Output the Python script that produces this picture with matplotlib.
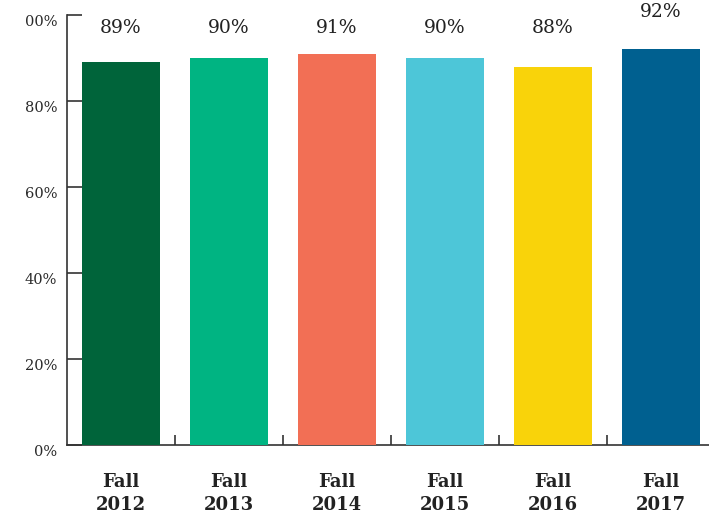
import matplotlib
matplotlib.use("Agg")
import matplotlib.pyplot as plt
import matplotlib.transforms as mtransforms

terms = ["Fall\n2012", "Fall\n2013", "Fall\n2014", "Fall\n2015", "Fall\n2016", "Fall\n2017"]
rates = [89, 90, 91, 90, 88, 92]
colors = ["#00643A", "#00B482", "#F26F55", "#4DC6D8", "#F9D30A", "#006090"]
yticks = [0, 20, 40, 60, 80, 100]
ytick_labels = ["0%", "20%", "40%", "60%", "80%", "00%"]  # top label is cut off in the original

plt.rcParams["font.family"] = ["DejaVu Serif"]
line_color = "#333333"

fig = plt.figure(figsize=(7.09, 5.18), dpi=100)
ax = fig.add_axes([67 / 709, 73 / 518, 648 / 709, 430 / 518])

x = list(range(len(rates)))
ax.bar(x, rates, width=0.72, color=colors, zorder=3)

# value labels sit on one line, the tallest bar gets pushed up above it
for xi, v in zip(x, rates):
    y_lab = v + 8.7 if v == max(rates) else 97
    ax.text(xi, y_lab, f"{v}%", ha="center", va="center",
            fontsize=13.5, color="#222222", clip_on=False)

ax.set_xlim(-0.5, len(rates) - 0.5)
ax.set_ylim(0, 100)

# ticks between bars, pointing inward
ax.set_xticks([i + 0.5 for i in range(len(rates) - 1)])
ax.set_xticklabels([])
ax.tick_params(axis="x", direction="in", length=7, width=1.2, color=line_color)
for xi, t in zip(x, terms):
    ax.text(xi, -0.064, t, transform=ax.get_xaxis_transform(), ha="center", va="top",
            fontsize=13, fontweight="bold", color="#222222", linespacing=1.38)

ax.set_yticks(yticks)
ax.set_yticklabels(ytick_labels)
ax.tick_params(axis="y", direction="in", length=11, width=1.2, color=line_color,
               labelsize=10.5, labelcolor="#2a2a2a", pad=7)
offset = mtransforms.ScaledTranslation(0, -6 / 100, fig.dpi_scale_trans)
for lab in ax.get_yticklabels():
    lab.set_transform(lab.get_transform() + offset)

for side in ["top", "right"]:
    ax.spines[side].set_visible(False)
for side in ["left", "bottom"]:
    ax.spines[side].set_color(line_color)
    ax.spines[side].set_linewidth(1.2)

fig.savefig("out.png", dpi=100)
